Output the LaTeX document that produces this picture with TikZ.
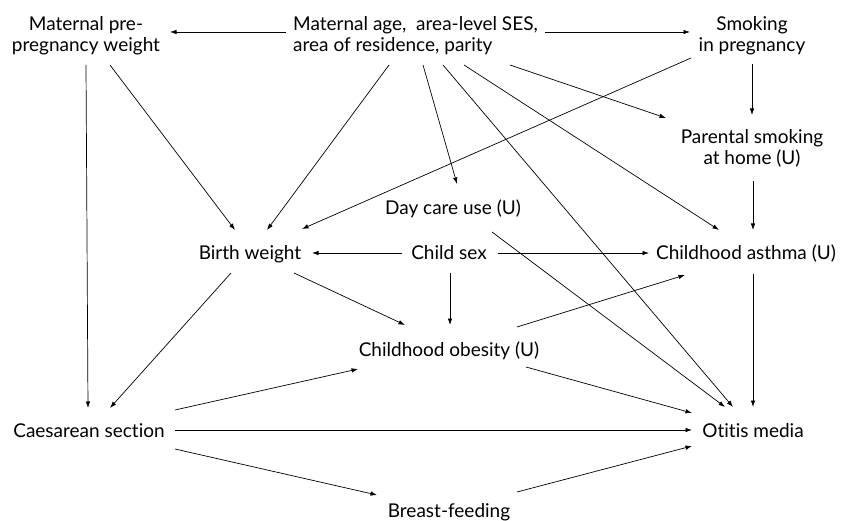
\documentclass[tikz,border=0pt]{standalone}
\usepackage{fontspec}
\setmainfont[Ligatures=NoCommon]{Lato}
\usetikzlibrary{arrows.meta,calc}
\begin{document}
\begin{tikzpicture}[x=1pt,y=-1pt,
  lbl/.style={inner sep=0pt,font=\fontsize{19}{21}\selectfont},
  arr/.style={-{Latex[length=6.5pt,width=4.5pt]},line width=0.7pt}]
\useasboundingbox (0,0) rectangle (848,521);
\node[lbl,anchor=base,align=center] (mpw) at (86,52) {Maternal pre-\\pregnancy weight};
\node[lbl,anchor=base west,align=left] (ma) at (293,52) {Maternal age,\ \ area-level SES,\\area of residence, parity};
\node[lbl,anchor=base,align=center] (sp) at (752,52) {Smoking\\in pregnancy};
\node[lbl,anchor=base,align=center] (ps) at (752,165) {Parental smoking\\at home (U)};
\node[lbl,anchor=base] (dc) at (453,215) {Day care use (U)};
\node[lbl,anchor=base] (bw) at (250,260) {Birth weight};
\node[lbl,anchor=base] (cs) at (449,260) {Child sex};
\node[lbl,anchor=base] (ca) at (746,260) {Childhood asthma (U)};
\node[lbl,anchor=base] (co) at (449,356) {Childhood obesity (U)};
\node[lbl,anchor=base] (cse) at (89,437) {Caesarean section};
\node[lbl,anchor=base] (om) at (753,437) {Otitis media};
\node[lbl,anchor=base] (bf) at (449,517) {Breast-feeding};
% connectors
\draw[arr] ($(ma.base west)+(-7,-20)$) -- ($(mpw.base)+(84,-20)$);
\draw[arr] ($(ma.base west)+(252,-20)$) -- ($(sp.base)+(-62,-20)$);
\draw[arr] ($(mpw.base)+(0,13)$) -- ($(cse.base)+(-1,-29)$);
\draw[arr] ($(mpw.base)+(24,13)$) -- ($(bw.base)+(-15,-30)$);
\draw[arr] ($(ma.base west)+(96,13)$) -- ($(bw.base)+(17,-30)$);
\draw[arr] ($(sp.base)+(-61,6)$) -- ($(bw.base)+(52,-31)$);
\draw[arr] ($(ma.base west)+(130,13)$) -- ($(dc.base)+(4,-31)$);
\draw[arr] ($(ma.base west)+(150,13)$) -- ($(om.base)+(-20,-30)$);
\draw[arr] ($(ma.base west)+(171,13)$) -- ($(ca.base)+(-27,-30)$);
\draw[arr] ($(ma.base west)+(217,13)$) -- ($(ps.base)+(-86,-47)$);
\draw[arr] ($(sp.base)+(0,12)$) -- ($(ps.base)+(0,-50)$);
\draw[arr] ($(ps.base)+(1,16)$) -- ($(ca.base)+(7,-30)$);
\draw[arr] ($(dc.base)+(39,17)$) -- ($(om.base)+(-28,-30)$);
\draw[arr] ($(cs.base)+(-47,-7)$) -- ($(bw.base)+(62,-7)$);
\draw[arr] ($(cs.base)+(49,-7)$) -- ($(ca.base)+(-97,-7)$);
\draw[arr] ($(cs.base)+(1,13)$) -- ($(co.base)+(1,-31)$);
\draw[arr] ($(bw.base)+(44,13)$) -- ($(co.base)+(-44,-31)$);
\draw[arr] ($(bw.base)+(-19,13)$) -- ($(cse.base)+(21,-29)$);
\draw[arr] ($(co.base)+(68,-29)$) -- ($(ca.base)+(-61,15)$);
\draw[arr] ($(co.base)+(77,11)$) -- ($(om.base)+(-61,-24)$);
\draw[arr] ($(ca.base)+(7,14)$) -- ($(om.base)+(0,-30)$);
\draw[arr] ($(cse.base)+(86,-27)$) -- ($(co.base)+(-91,13)$);
\draw[arr] ($(cse.base)+(86,-7)$) -- ($(om.base)+(-61,-7)$);
\draw[arr] ($(cse.base)+(86,12)$) -- ($(bf.base)+(-72,-22)$);
\draw[arr] ($(bf.base)+(68,-25)$) -- ($(om.base)+(-61,9)$);
\end{tikzpicture}
\end{document}
